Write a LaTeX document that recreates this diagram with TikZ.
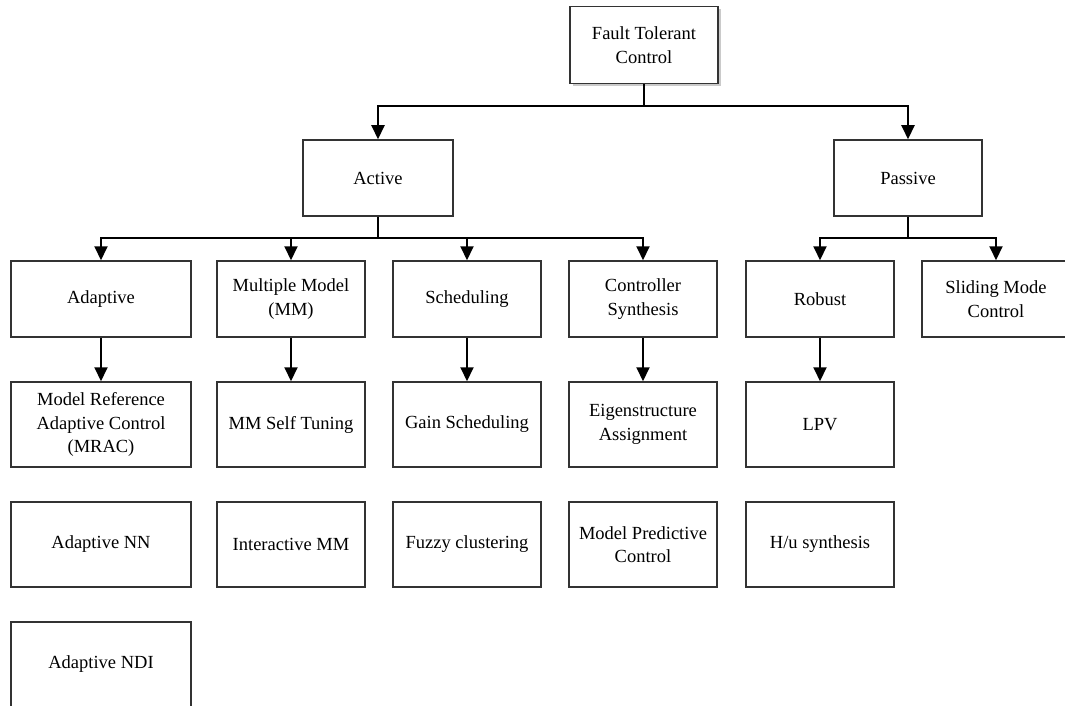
\documentclass[tikz,border=0pt]{standalone}
\usepackage{fontspec}
\setmainfont{Liberation Serif}
\usepackage{tikz}
\usetikzlibrary{arrows.meta,shadows}

\tikzset{
  box/.style={draw=black!80,line width=1.5pt,fill=white,minimum width=148pt,
    minimum height=76pt,inner sep=0pt,align=center,
    font=\fontsize{18.5}{23.5}\selectfont},
  widebox/.style={box,minimum width=180pt},
  tallbox/.style={minimum height=85pt},
  link/.style={line width=2pt,black},
  arr/.style={link,-{Triangle[width=13pt,length=14pt]}}
}

\begin{document}
\begin{tikzpicture}[x=1pt,y=-1pt]
  \useasboundingbox (0,0) rectangle (1065,706);
  % top
  \node[box,minimum height=77pt,drop shadow={shadow xshift=3pt,shadow yshift=-3pt,fill=black!35,opacity=0.6}] (ftc) at (644,45) {Fault Tolerant\\Control};
  \node[box,minimum width=150pt] (active) at (378,178) {Active};
  \node[box] (passive) at (908,178) {Passive};
  % second row
  \node[widebox] (adapt) at (101,299) {Adaptive};
  \node[box] (mm) at (291,299) {Multiple Model\\(MM)};
  \node[box] (sched) at (467,299) {Scheduling};
  \node[box] (ctrl) at (643,299) {Controller\\Synthesis};
  \node[box] (robust) at (820,299) {Robust};
  \node[box] (sliding) at (996,299) {Sliding Mode\\Control};
  % third row
  \node[widebox,tallbox] (mrac) at (101,424.5) {Model Reference\\Adaptive Control\\(MRAC)};
  \node[box,tallbox] (mmst) at (291,424.5) {MM Self Tuning};
  \node[box,tallbox] (gain) at (467,424.5) {Gain Scheduling};
  \node[box,tallbox] (eigen) at (643,424.5) {Eigenstructure\\Assignment};
  \node[box,tallbox] (lpv) at (820,424.5) {LPV};
  % fourth row
  \node[widebox,tallbox] (ann) at (101,544.5) {Adaptive NN};
  \node[box,tallbox] (imm) at (291,544.5) {Interactive MM};
  \node[box,tallbox] (fuzzy) at (467,544.5) {Fuzzy clustering};
  \node[box,tallbox] (mpc) at (643,544.5) {Model Predictive\\Control};
  \node[box,tallbox] (hu) at (820,544.5) {H/u synthesis};
  % fifth row
  \node[widebox,tallbox] (ndi) at (101,664.5) {Adaptive NDI};

  % connectors
  \coordinate (j1) at (644,106);
  \coordinate (j2) at (378,238);
  \coordinate (j3) at (908,238);
  \draw[link] (ftc) -- (j1);
  \draw[arr] (j1) -| (active);
  \draw[arr] (j1) -| (passive);
  \draw[link] (active) -- (j2);
  \foreach \n in {adapt,mm,sched,ctrl}
    \draw[arr] (j2) -| (\n);
  \draw[link] (passive) -- (j3);
  \foreach \n in {robust,sliding}
    \draw[arr] (j3) -| (\n);
  \draw[arr] (adapt) -- (mrac);
  \draw[arr] (mm) -- (mmst);
  \draw[arr] (sched) -- (gain);
  \draw[arr] (ctrl) -- (eigen);
  \draw[arr] (robust) -- (lpv);
\end{tikzpicture}
\end{document}
